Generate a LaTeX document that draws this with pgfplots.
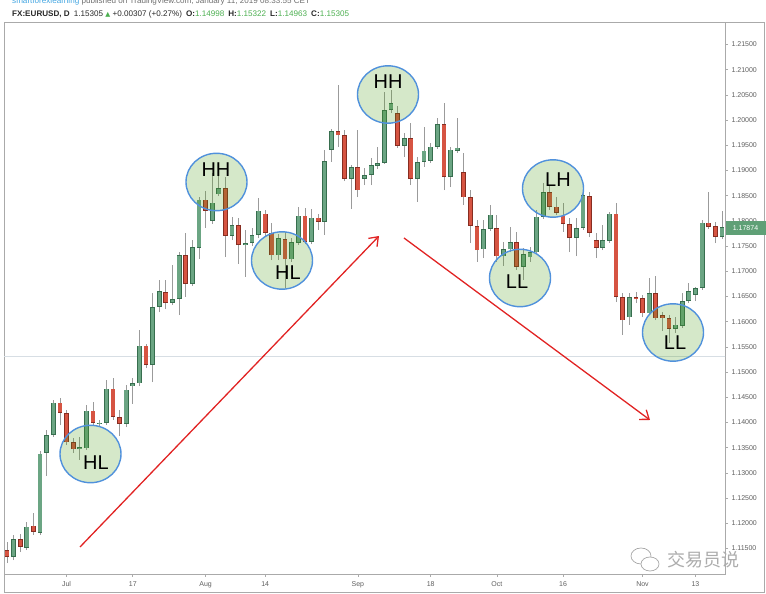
\documentclass[border=0pt]{standalone}
\usepackage{fontspec}
\setmainfont{Liberation Sans}
\newfontfamily\cjk{Noto Sans CJK SC}
\newfontfamily\djv{DejaVu Sans}
\usepackage{pgfplots}
\usepackage{pgfplotstable}
\pgfplotsset{compat=1.18}
\usetikzlibrary{arrows.meta}

\definecolor{upfill}{RGB}{107,165,131}
\definecolor{upline}{RGB}{55,110,78}
\definecolor{dnfill}{RGB}{214,84,66}
\definecolor{dnline}{RGB}{135,45,33}
\definecolor{wick}{RGB}{155,155,155}
\definecolor{frame}{RGB}{170,170,170}
\definecolor{tvblue}{RGB}{66,165,225}
\definecolor{tvgreen}{RGB}{76,175,80}
\definecolor{ring}{RGB}{80,145,220}
\definecolor{ringfill}{RGB}{75,155,20}
\definecolor{arrowred}{RGB}{225,35,35}
\definecolor{ticktext}{RGB}{95,95,95}
\definecolor{priceline}{RGB}{215,222,228}
\definecolor{boxgreen}{RGB}{95,160,118}

\pgfplotstableread{
i o h l c
1 1.1147 1.1163 1.1121 1.1133
2 1.1133 1.1177 1.1127 1.1169
3 1.1169 1.1179 1.1143 1.1153
4 1.1151 1.1203 1.1147 1.1193
5 1.1195 1.1221 1.1177 1.1183
6 1.1181 1.1344 1.1177 1.1338
7 1.1340 1.1385 1.1294 1.1375
8 1.1375 1.1445 1.1371 1.1439
9 1.1439 1.1449 1.1395 1.1419
10 1.1419 1.1425 1.1355 1.1361
11 1.1361 1.1369 1.1340 1.1347
12 1.1347 1.1371 1.1326 1.1351
13 1.1349 1.1435 1.1346 1.1423
14 1.1423 1.1441 1.1393 1.1399
15 1.1397 1.1405 1.1393 1.1399
16 1.1399 1.1484 1.1395 1.1467
17 1.1467 1.1488 1.1405 1.1411
18 1.1411 1.1425 1.1373 1.1397
19 1.1397 1.1474 1.1391 1.1465
20 1.1472 1.1488 1.1437 1.1478
21 1.1478 1.1584 1.1472 1.1552
22 1.1552 1.1556 1.1508 1.1514
23 1.1514 1.1657 1.1480 1.1629
24 1.1629 1.1683 1.1619 1.1661
25 1.1659 1.1683 1.1625 1.1637
26 1.1637 1.1713 1.1633 1.1645
27 1.1645 1.1738 1.1613 1.1732
28 1.1732 1.1776 1.1649 1.1675
29 1.1675 1.1762 1.1671 1.1748
30 1.1746 1.1847 1.1724 1.1842
31 1.1842 1.1859 1.1786 1.1820
32 1.1800 1.1895 1.1794 1.1836
33 1.1853 1.1889 1.1849 1.1865
34 1.1865 1.1887 1.1728 1.1770
35 1.1770 1.1808 1.1762 1.1792
36 1.1792 1.1806 1.1715 1.1752
37 1.1752 1.1782 1.1689 1.1756
38 1.1756 1.1786 1.1750 1.1772
39 1.1772 1.1846 1.1766 1.1820
40 1.1814 1.1822 1.1770 1.1776
41 1.1776 1.1796 1.1722 1.1732
42 1.1732 1.1774 1.1722 1.1766
43 1.1764 1.1778 1.1667 1.1724
44 1.1724 1.1766 1.1719 1.1758
45 1.1756 1.1828 1.1752 1.1810
46 1.1810 1.1826 1.1754 1.1758
47 1.1758 1.1824 1.1754 1.1806
48 1.1806 1.1814 1.1782 1.1798
49 1.1798 1.1941 1.1772 1.1919
50 1.1941 1.1982 1.1917 1.1978
51 1.1978 1.2070 1.1947 1.1970
52 1.1970 1.1980 1.1879 1.1883
53 1.1883 1.1911 1.1824 1.1907
54 1.1907 1.1980 1.1847 1.1861
55 1.1883 1.1905 1.1871 1.1891
56 1.1891 1.1925 1.1871 1.1911
57 1.1909 1.1947 1.1903 1.1915
58 1.1915 1.2056 1.1913 1.2020
59 1.2020 1.2060 1.2014 1.2034
60 1.2014 1.2028 1.1945 1.1949
61 1.1949 1.1974 1.1927 1.1964
62 1.1964 1.1994 1.1871 1.1883
63 1.1883 1.1927 1.1838 1.1917
64 1.1917 1.1986 1.1907 1.1939
65 1.1919 1.1955 1.1915 1.1947
66 1.1947 1.2004 1.1943 1.1992
67 1.1992 1.2034 1.1861 1.1887
68 1.1887 1.1947 1.1867 1.1941
69 1.1939 1.2004 1.1935 1.1945
70 1.1897 1.1935 1.1832 1.1847
71 1.1847 1.1861 1.1756 1.1790
72 1.1790 1.1802 1.1719 1.1742
73 1.1744 1.1802 1.1726 1.1784
74 1.1784 1.1832 1.1780 1.1812
75 1.1786 1.1812 1.1719 1.1730
76 1.1730 1.1758 1.1711 1.1744
77 1.1744 1.1788 1.1738 1.1758
78 1.1758 1.1778 1.1703 1.1709
79 1.1709 1.1746 1.1683 1.1734
80 1.1728 1.1748 1.1719 1.1738
81 1.1738 1.1822 1.1734 1.1808
82 1.1808 1.1875 1.1804 1.1857
83 1.1857 1.1871 1.1822 1.1828
84 1.1828 1.1847 1.1812 1.1816
85 1.1810 1.1836 1.1778 1.1794
86 1.1794 1.1806 1.1738 1.1766
87 1.1766 1.1806 1.1730 1.1786
88 1.1786 1.1861 1.1782 1.1851
89 1.1849 1.1857 1.1768 1.1776
90 1.1762 1.1776 1.1726 1.1746
91 1.1746 1.1792 1.1742 1.1762
92 1.1760 1.1818 1.1756 1.1814
93 1.1814 1.1836 1.1639 1.1649
94 1.1649 1.1657 1.1574 1.1603
95 1.1609 1.1657 1.1594 1.1649
96 1.1649 1.1659 1.1637 1.1645
97 1.1647 1.1653 1.1609 1.1617
98 1.1617 1.1687 1.1613 1.1657
99 1.1657 1.1691 1.1603 1.1607
100 1.1613 1.1619 1.1582 1.1607
101 1.1607 1.1613 1.1558 1.1586
102 1.1586 1.1609 1.1578 1.1594
103 1.1592 1.1657 1.1588 1.1641
104 1.1641 1.1677 1.1637 1.1661
105 1.1653 1.1669 1.1641 1.1667
106 1.1667 1.1802 1.1663 1.1796
107 1.1796 1.1857 1.1784 1.1788
108 1.1790 1.1798 1.1756 1.1768
109 1.1768 1.1820 1.1764 1.1787
}\candles

\begin{document}
\begin{tikzpicture}[x=1pt,y=1pt]
\useasboundingbox (0,0) rectangle (766,594);
% outer frame
\draw[frame, line width=0.8pt] (4,2) rectangle (764,572);
\begin{axis}[
  at={(4pt,20pt)}, anchor=south west,
  scale only axis, width=721pt, height=552pt,
  xmin=0.547, xmax=109.46, ymin=1.10994, ymax=1.21946,
  axis line style={draw=frame, line width=0.8pt},
  tick style={draw=frame, line width=0.6pt},
  tick align=outside, major tick length=3pt,
  xtick pos=bottom, ytick pos=right, yticklabel pos=right,
  xtick={10,20,31,40,54,65,75,85,97,105},
  xticklabels={Jul,17,Aug,14,Sep,18,Oct,16,Nov,13},
  ytick={1.115,1.12,1.125,1.13,1.135,1.14,1.145,1.15,1.155,1.16,1.165,1.17,1.175,1.18,1.185,1.19,1.195,1.2,1.205,1.21,1.215},
  /pgf/number format/assume math mode=true,
  yticklabel style={/pgf/number format/.cd, fixed, fixed zerofill, precision=5},
  xticklabel style={yshift=-1pt},
  tick label style={font=\fontsize{7}{8}\selectfont, text=ticktext},
  scaled y ticks=false,
]
% current price line
\addplot[priceline, line width=0.8pt, mark=none] coordinates {(0.5,1.15305) (110,1.15305)};
% wicks
\addplot[draw=none, mark=none, error bars/.cd, y dir=plus, y explicit, error mark=none,
  error bar style={line width=0.8pt, draw=wick}]
  table[x=i, y=l, y error plus expr=\thisrow{h}-\thisrow{l}] {\candles};
% up bodies
\addplot[draw=none, mark=none, restrict expr to domain={\thisrow{c}-\thisrow{o}}{0:1},
  error bars/.cd, y dir=plus, y explicit, error mark=none,
  error bar style={line width=4.8pt, draw=upline}]
  table[x=i, y=o, y error plus expr=\thisrow{c}-\thisrow{o}] {\candles};
\addplot[draw=none, mark=none, restrict expr to domain={\thisrow{c}-\thisrow{o}}{0:1},
  error bars/.cd, y dir=plus, y explicit, error mark=none,
  error bar style={line width=3.4pt, draw=upfill, shorten <=0.6pt, shorten >=0.6pt}]
  table[x=i, y=o, y error plus expr=\thisrow{c}-\thisrow{o}] {\candles};
% down bodies
\addplot[draw=none, mark=none, restrict expr to domain={\thisrow{c}-\thisrow{o}}{-1:0},
  error bars/.cd, y dir=plus, y explicit, error mark=none,
  error bar style={line width=4.8pt, draw=dnline}]
  table[x=i, y=c, y error plus expr=\thisrow{o}-\thisrow{c}] {\candles};
\addplot[draw=none, mark=none, restrict expr to domain={\thisrow{c}-\thisrow{o}}{-1:0},
  error bars/.cd, y dir=plus, y explicit, error mark=none,
  error bar style={line width=3.4pt, draw=dnfill, shorten <=0.6pt, shorten >=0.6pt}]
  table[x=i, y=c, y error plus expr=\thisrow{o}-\thisrow{c}] {\candles};
\end{axis}
% last price marker
\fill[boxgreen] (725.5,359) rectangle (766,373);
\node[text=white, font=\fontsize{7}{8}\selectfont, inner sep=0] at (745.5,366) {1.17874};
% header
\node[anchor=base west, inner sep=0, font=\fontsize{8.1}{9}\selectfont] at (12,590.2)
  {{\color{tvblue}smartforexlearning}\ {\color[RGB]{110,110,110}published on TradingView.com, January 11, 2019 08:33:55 CET}};
\node[anchor=base west, inner sep=0, font=\fontsize{8.1}{9}\selectfont, text={rgb,255:red,40;green,40;blue,40}] at (12,577.3)
  {\textbf{FX:EURUSD, D}\enspace 1.15305 {\djv\fontsize{6.5}{7}\selectfont\color{tvgreen}▲} +0.00307 (+0.27\%)\enspace \textbf{O:}{\color{tvgreen}1.14998}\enspace \textbf{H:}{\color{tvgreen}1.15322}\enspace \textbf{L:}{\color{tvgreen}1.14963}\enspace \textbf{C:}{\color{tvgreen}1.15305}};
% arrows
\draw[arrowred, line width=1.3pt, -{Straight Barb[length=8pt,width=12pt]}] (80,47) -- (379,358);
\draw[arrowred, line width=1.3pt, -{Straight Barb[length=8pt,width=12pt]}] (404,356) -- (650,174);
% circles
\foreach \cx/\cy/\tx/\ty/\lab in {90.5/140/96/131/HL, 216.5/412/216/424/HH, 282/333.5/288/321/HL, 388/499.5/388/512/HH, 520/316/517/312/LL, 553/405.5/558/414/LH, 673/261.5/675/251/LL}{
  \fill[ringfill, fill opacity=0.23] (\cx,\cy) ellipse [x radius=30.5, y radius=28.7];
  \draw[ring, line width=1.4pt] (\cx,\cy) ellipse [x radius=30.5, y radius=28.7];
  \node[font=\fontsize{20}{22}\selectfont, text=black, inner sep=0] at (\tx,\ty) {\lab};
}
% watermark
\draw[gray!70, fill=white, line width=0.7pt] (641,38) ellipse [x radius=10, y radius=8];
\draw[gray!70, fill=white, line width=0.7pt] (650,30) ellipse [x radius=9, y radius=7];
\node[font=\cjk\fontsize{18}{20}\selectfont, text=gray!65, inner sep=0] at (703,34) {交易员说};
\end{tikzpicture}
\end{document}
